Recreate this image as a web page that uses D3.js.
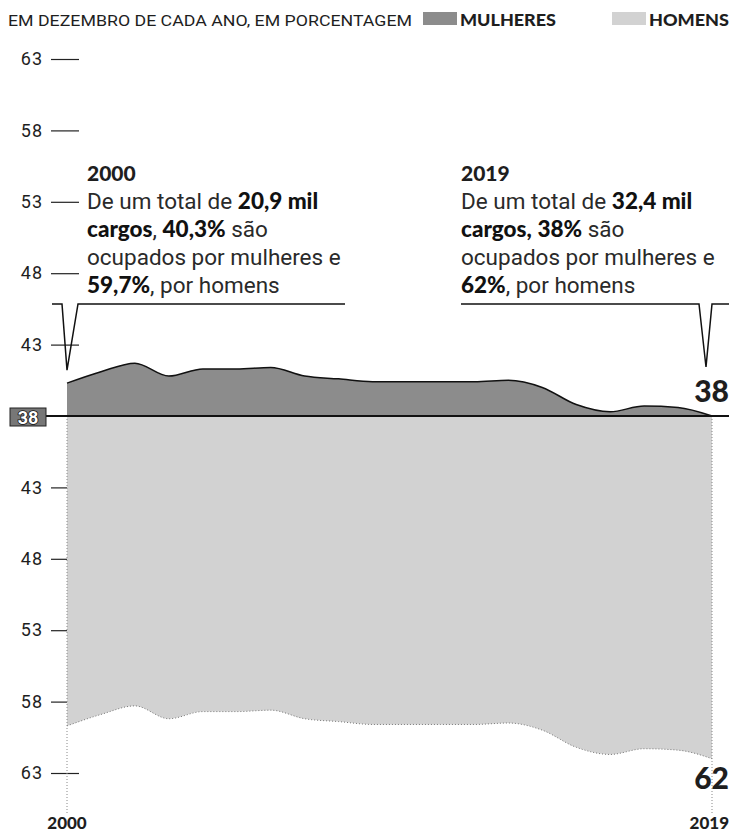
<!DOCTYPE html>
<html>
<head>
<meta charset="utf-8">
<script src="https://cdn.jsdelivr.net/npm/d3@7"></script>
<style>
  body { margin: 0; background: #fff; }
  svg { display: block; }
  text { font-family: Roboto, "Noto Sans", sans-serif; fill: #1e1e1e; }
  .hand { font-family: Lato, "DejaVu Sans", sans-serif; font-weight: 900; }
</style>
</head>
<body>
<div id="chart"></div>
<script>
// share of positions, December of each year (%)
const years = [2000, 2001, 2002, 2003, 2004, 2005, 2006, 2007, 2008, 2009,
               2010, 2011, 2012, 2013, 2014, 2015, 2016, 2017, 2018, 2019];
const women = [40.3, 41.1, 41.7, 40.8, 41.3, 41.3, 41.4, 40.8, 40.6, 40.4,
               40.4, 40.4, 40.4, 40.5, 40.0, 38.8, 38.3, 38.7, 38.6, 38.0];
const men   = [59.7, 58.9, 58.3, 59.2, 58.7, 58.7, 58.6, 59.2, 59.4, 59.6,
               59.6, 59.6, 59.6, 59.5, 60.0, 61.2, 61.7, 61.3, 61.4, 62.0];
const yTicks = [43, 48, 53, 58, 63];
const baseValue = 38;

// annotation text: [text, bold?]
const noteLeft = {
  title: "2000",
  lines: [
    [["De um total de ", false], ["20,9 mil", true]],
    [["cargos", true], [", ", false], ["40,3%", true], [" são", false]],
    [["ocupados por mulheres e", false]],
    [["59,7%", true], [", por homens", false]]
  ]
};
const noteRight = {
  title: "2019",
  lines: [
    [["De um total de ", false], ["32,4 mil", true]],
    [["cargos,", true], [" ", false], ["38%", true], [" são", false]],
    [["ocupados por mulheres e", false]],
    [["62%", true], [", por homens", false]]
  ]
};

const W = 729, H = 834;
const darkFill = "#8c8c8c", lightFill = "#d2d2d2";

let svg = d3.select("#chart").append("svg")
  .attr("width", W)
  .attr("height", H);

let x = d3.scaleLinear().domain([2000, 2019]).range([67, 712]);
let yTop = d3.scaleLinear().domain([38, 63]).range([416, 59]);
let yBot = d3.scaleLinear().domain([38, 63]).range([416, 773]);

let data = years.map((yr, i) => ({ year: yr, w: women[i], m: men[i] }));

// header
svg.append("text")
  .attr("x", 8).attr("y", 26)
  .style("font-size", "15.5px")
  .attr("textLength", 404)
  .attr("lengthAdjust", "spacingAndGlyphs")
  .text("EM DEZEMBRO DE CADA ANO, EM PORCENTAGEM");

let legend = [
  { label: "MULHERES", fill: darkFill, x: 423, w: 96 },
  { label: "HOMENS", fill: lightFill, x: 612, w: 80 }
];
legend.forEach(l => {
  svg.append("rect")
    .attr("x", l.x).attr("y", 12)
    .attr("width", 34).attr("height", 13)
    .attr("fill", l.fill);
  svg.append("text")
    .attr("class", "hand")
    .attr("x", l.x + 37).attr("y", 26)
    .style("font-size", "16px")
    .attr("textLength", l.w)
    .attr("lengthAdjust", "spacingAndGlyphs")
    .text(l.label);
});

// axes
function styleAxis(g) {
  g.select(".domain").remove();
  g.selectAll(".tick line").attr("stroke", "#222").attr("stroke-width", 1.2);
  g.selectAll(".tick text")
    .style("font-size", "18px")
    .style("font-weight", 400)
    .style("letter-spacing", "1px")
    .style("fill", "#1e1e1e")
    .style("font-family", "Roboto, sans-serif");
}

svg.append("g")
  .attr("transform", "translate(79,0)")
  .call(d3.axisLeft(yTop).tickValues(yTicks).tickSize(28).tickPadding(8))
  .call(styleAxis);

svg.append("g")
  .attr("transform", "translate(79,0)")
  .call(d3.axisLeft(yBot).tickValues(yTicks).tickSize(28).tickPadding(8))
  .call(styleAxis);

// areas
let areaW = d3.area()
  .curve(d3.curveMonotoneX)
  .x(d => x(d.year))
  .y0(yTop(baseValue))
  .y1(d => yTop(d.w));

let lineW = d3.line()
  .curve(d3.curveMonotoneX)
  .x(d => x(d.year))
  .y(d => yTop(d.w));

let areaM = d3.area()
  .curve(d3.curveMonotoneX)
  .x(d => x(d.year))
  .y0(yBot(baseValue))
  .y1(d => yBot(d.m));

svg.append("path")
  .datum(data)
  .attr("fill", lightFill)
  .attr("d", areaM);

svg.append("path")
  .datum(data)
  .attr("fill", darkFill)
  .attr("d", areaW);

svg.append("path")
  .datum(data)
  .attr("fill", "none")
  .attr("stroke", "#111")
  .attr("stroke-width", 1.5)
  .attr("d", lineW);

// bottom edge of men area, faint dotted
svg.append("path")
  .datum(data)
  .attr("fill", "none")
  .attr("stroke", "#777")
  .attr("stroke-width", 1)
  .attr("stroke-dasharray", "1,2")
  .attr("d", d3.line().curve(d3.curveMonotoneX).x(d => x(d.year)).y(d => yBot(d.m)));

// vertical dotted guides at the ends
[2000, 2019].forEach(yr => {
  svg.append("line")
    .attr("x1", x(yr)).attr("x2", x(yr))
    .attr("y1", yBot(baseValue)).attr("y2", 815)
    .attr("stroke", "#888")
    .attr("stroke-width", 1)
    .attr("stroke-dasharray", "1,2");
});

// baseline
svg.append("line")
  .attr("x1", 46).attr("x2", W)
  .attr("y1", yTop(baseValue)).attr("y2", yTop(baseValue))
  .attr("stroke", "#111")
  .attr("stroke-width", 2.2);

// 38 box label
svg.append("rect")
  .attr("x", 10).attr("y", yTop(baseValue) - 8)
  .attr("width", 36).attr("height", 18)
  .attr("fill", "#777")
  .attr("stroke", "#222")
  .attr("stroke-width", 1);
svg.append("text")
  .attr("x", 28).attr("y", yTop(baseValue) + 8)
  .attr("text-anchor", "middle")
  .style("font-size", "18px")
  .style("font-weight", 700)
  .style("fill", "#fff")
  .style("stroke", "#111")
  .style("stroke-width", "1.6px")
  .style("paint-order", "stroke")
  .text(baseValue);

// x labels
svg.append("text")
  .attr("class", "hand")
  .attr("x", x(2000)).attr("y", 829)
  .attr("text-anchor", "middle")
  .style("font-size", "17px")
  .text(years[0]);
svg.append("text")
  .attr("class", "hand")
  .attr("x", W).attr("y", 829)
  .attr("text-anchor", "end")
  .style("font-size", "17px")
  .text(years[years.length - 1]);

// end values
svg.append("text")
  .attr("class", "hand")
  .attr("x", W).attr("y", yTop(women[women.length - 1]) - 14)
  .attr("text-anchor", "end")
  .style("font-size", "30px")
  .text(d3.format("d")(women[women.length - 1]));
svg.append("text")
  .attr("class", "hand")
  .attr("x", W).attr("y", yBot(men[men.length - 1]) + 30)
  .attr("text-anchor", "end")
  .style("font-size", "30px")
  .text(d3.format("d")(men[men.length - 1]));

// annotations
function drawNote(note, tx) {
  let g = svg.append("g");
  g.append("text")
    .attr("class", "hand")
    .attr("x", tx).attr("y", 181)
    .style("font-size", "21px")
    .text(note.title);
  note.lines.forEach((parts, i) => {
    let t = g.append("text")
      .attr("x", tx).attr("y", 209 + i * 28)
      .style("font-size", "22.5px")
      .style("fill", "#2a2a2a");
    parts.forEach(p => {
      t.append("tspan")
        .attr("class", p[1] ? "hand" : null)
        .style("fill", p[1] ? "#111" : null)
        .text(p[0]);
    });
  });
}
drawNote(noteLeft, 87);
drawNote(noteRight, 461);

// brackets pointing at the end values
let bracketY = 304;
function bracket(xs, tipY) {
  svg.append("path")
    .attr("fill", "none")
    .attr("stroke", "#111")
    .attr("stroke-width", 1.5)
    .attr("d", d3.line()(xs.map(p => [p[0], p[1] === "tip" ? tipY : bracketY])));
}
bracket([[52, 0], [x(2000) - 5, 0], [x(2000), "tip"], [x(2000) + 11, 0], [345, 0]],
  yTop(women[0]) - 13);
bracket([[461, 0], [x(2019) - 13, 0], [x(2019) - 6, "tip"], [x(2019), 0], [W, 0]],
  yTop(women[women.length - 1]) - 49);
</script>
</body>
</html>
